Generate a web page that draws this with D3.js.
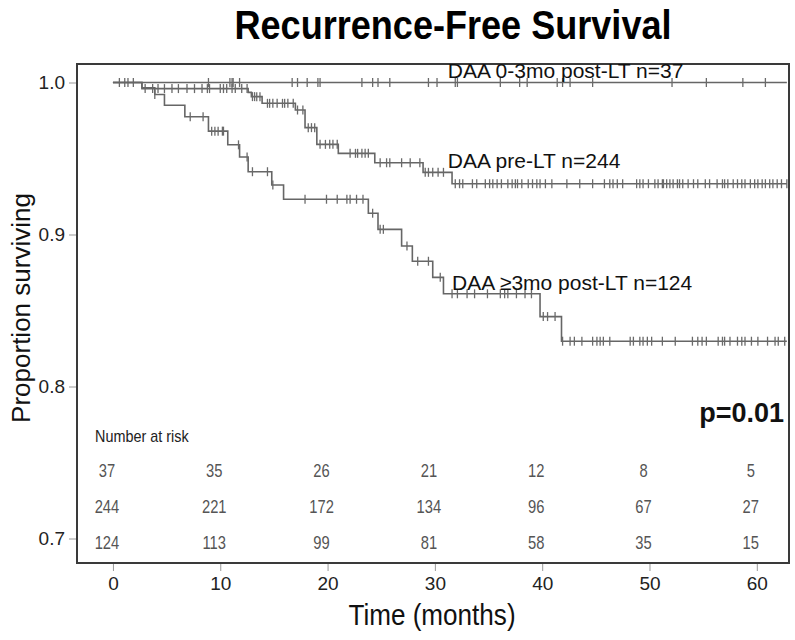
<!DOCTYPE html>
<html>
<head>
<meta charset="utf-8">
<script src="https://cdn.jsdelivr.net/npm/d3@7"></script>
<style>
  html, body { margin: 0; padding: 0; background: #fff; }
  svg { display: block; font-family: "Liberation Sans", Arial, Helvetica, sans-serif; }
</style>
</head>
<body>
<svg id="chart" width="795" height="640"></svg>
<script>
// ---------------- data ----------------
const titleText = "Recurrence-Free Survival";
const xTitle = "Time (months)";
const yTitle = "Proportion surviving";
const timeTicks = [0, 10, 20, 30, 40, 50, 60];
const survTicks = [0.7, 0.8, 0.9, 1.0];
const groupNames = ["DAA 0-3mo post-LT n=37", "DAA pre-LT n=244", "DAA \u22653mo post-LT n=124"];
const labelT = [31.2, 31.2, 31.6];
const labelV = [1.003, 0.9438, 0.8635];
const pText = "p=0.01";

const riskTimes = [0, 10, 20, 30, 40, 50, 60];
const riskG1 = [37, 35, 26, 21, 12, 8, 5];
const riskG2 = [244, 221, 172, 134, 96, 67, 27];
const riskG3 = [124, 113, 99, 81, 58, 35, 15];

const endTime = 62.8;

// step functions (time in months, survival after the step)
const g1StepT = [0];
const g1StepV = [1.0];
const g2StepT = [0, 2.7, 12.6, 12.9, 13.9, 17.0, 17.9, 19.0, 21.0, 24.4, 28.9, 31.6];
const g2StepV = [1.0, 0.9960, 0.9935, 0.9907, 0.9863, 0.9819, 0.9703, 0.9593, 0.9534, 0.9472, 0.9409, 0.9334];
const g3StepT = [0, 2.7, 3.9, 4.8, 6.7, 8.9, 10.7, 11.8, 12.6, 14.8, 15.9, 23.8, 24.7, 26.9, 27.9, 29.8, 30.8, 39.8, 41.8];
const g3StepV = [1.0, 0.9965, 0.9921, 0.985, 0.9775, 0.968, 0.959, 0.951, 0.9413, 0.9326, 0.9232, 0.914, 0.9034, 0.8924, 0.8824, 0.8718, 0.861, 0.846, 0.8298];

// censoring times
const g1Cens = [0.6,1.1,1.4,1.9,8.9,10.9,11.1,11.2,11.8,16.7,17.2,18.1,19.1,19.3,23.2,24.2,24.7,25.8,29.4,30.2,31.9,32.1,36.1,37.9,38.6,41.4,41.9,42.6,44.7,52.1,55.3,58.7,60.8];
const g2Cens = [3.0,3.7,4.2,4.8,5.5,6.1,6.9,7.6,8.3,8.8,9.0,10.0,10.3,10.6,11.1,11.4,12.0,12.5,13.0,13.2,13.4,13.7,14.4,14.6,14.9,15.3,15.8,16.0,16.3,16.8,17.2,17.7,18.2,18.5,18.8,19.3,19.8,20.2,20.5,20.9,22.1,22.6,22.8,23.2,23.5,23.8,24.9,25.5,25.8,26.9,27.7,28.6,29.1,29.4,29.8,30.3,30.8,31.9,32.3,32.6,33.5,33.9,34.7,35.1,35.4,35.8,36.2,36.8,37.2,37.5,37.7,38.1,38.7,39.1,39.5,39.8,40.3,40.9,42.3,43.5,44.7,45.8,46.3,46.6,47.0,47.5,48.8,49.1,49.4,49.9,50.5,50.8,51.2,51.3,51.6,51.9,52.2,52.6,52.8,53.1,53.6,54.1,54.5,55.2,55.6,56.3,56.8,57.0,57.3,57.8,58.2,58.6,58.9,59.4,59.8,60.1,60.5,60.8,61.2,61.5,61.9,62.3,62.8];
const g3Cens = [3.9,7.2,8.4,9.2,9.5,9.8,10.2,10.3,11.7,12.5,13.0,14.4,14.9,17.9,19.9,20.9,21.8,22.1,22.7,23.3,24.2,24.9,25.2,27.4,28.4,29.4,30.5,31.6,32.1,33.0,33.7,34.9,36.1,36.5,36.8,37.6,38.4,39.0,40.1,40.5,41.2,41.9,42.6,43.0,43.7,44.7,45.1,45.4,45.7,46.3,48.2,48.5,49.1,49.4,49.8,50.2,51.2,52.4,54.0,54.5,54.9,55.3,56.4,56.8,57.0,57.5,58.2,58.6,58.9,59.5,60.1,61.0,61.7,62.0,62.6];

// ---------------- layout ----------------
const svg = d3.select("#chart");
const frame = { left: 77, right: 789, top: 64, bottom: 563 };

const x = d3.scaleLinear().domain([-3.35, 63.0]).range([frame.left, frame.right]);
const y = d3.scaleLinear().domain([0.7, 1.0]).range([538.5, 82.5]);

svg.append("rect").attr("width", 795).attr("height", 640).attr("fill", "#fff");

// condensed text helper
function ctext(parent, px, py, str, opts) {
  const g = parent.append("g").attr("transform", `translate(${px},${py}) scale(${opts.sx || 1},1)`);
  return g.append("text")
    .attr("x", 0).attr("y", 0)
    .attr("text-anchor", opts.anchor || "start")
    .attr("font-size", opts.size)
    .attr("font-weight", opts.weight || "normal")
    .attr("fill", opts.fill || "#111")
    .text(str);
}

// title
ctext(svg, 453, 39, titleText, { size: 41, weight: "bold", anchor: "middle", sx: 0.88, fill: "#000" });

// clip
svg.append("defs").append("clipPath").attr("id", "clip")
  .append("rect").attr("x", frame.left).attr("y", frame.top)
  .attr("width", frame.right - frame.left).attr("height", frame.bottom - frame.top);

// axes
const yAxis = svg.append("g").attr("transform", `translate(${frame.left},0)`)
  .call(d3.axisLeft(y).tickValues(survTicks).tickFormat(d3.format(".1f")).tickSize(8).tickPadding(4));
const xAxis = svg.append("g").attr("transform", `translate(0,${frame.bottom})`)
  .call(d3.axisBottom(x).tickValues(timeTicks).tickSize(8).tickPadding(6));
[yAxis, xAxis].forEach(a => {
  a.select(".domain").remove();
  a.selectAll(".tick line").attr("stroke", "#999").attr("stroke-width", 1);
  a.selectAll(".tick text").attr("fill", "#222")
    .attr("font-family", "'Liberation Sans', Arial, sans-serif");
});
yAxis.selectAll(".tick text").attr("font-size", 19);
xAxis.selectAll(".tick text").attr("font-size", 19);

// frame
svg.append("rect")
  .attr("x", frame.left).attr("y", frame.top)
  .attr("width", frame.right - frame.left).attr("height", frame.bottom - frame.top)
  .attr("fill", "none").attr("stroke", "#3a3a3a").attr("stroke-width", 2);

// axis titles
ctext(svg, 432, 625, xTitle, { size: 29, anchor: "middle", sx: 0.9, fill: "#111" });
svg.append("text")
  .attr("transform", `translate(30,308) rotate(-90)`)
  .attr("text-anchor", "middle").attr("font-size", 26).attr("fill", "#111")
  .text(yTitle);

// curves
const groups = [
  { T: g1StepT, V: g1StepV, C: g1Cens },
  { T: g2StepT, V: g2StepV, C: g2Cens },
  { T: g3StepT, V: g3StepV, C: g3Cens }
];
const plot = svg.append("g").attr("clip-path", "url(#clip)");
const line = d3.line().x(d => x(d[0])).y(d => y(d[1])).curve(d3.curveStepAfter);

groups.forEach((gr, i) => {
  const pts = gr.T.map((t, k) => [t, gr.V[k]]);
  pts.push([endTime, gr.V[gr.V.length - 1]]);
  plot.append("path").datum(pts)
    .attr("d", line).attr("fill", "none")
    .attr("stroke", "#666").attr("stroke-width", 1.6);
  const sAt = t => gr.V[d3.bisectRight(gr.T, t) - 1];
  plot.selectAll(null).data(gr.C).enter().append("line")
    .attr("x1", d => x(d)).attr("x2", d => x(d))
    .attr("y1", d => y(sAt(d)) - 4.5).attr("y2", d => y(sAt(d)) + 4.5)
    .attr("stroke", "#6a6a6a").attr("stroke-width", 1.3);
});

// curve labels
groupNames.forEach((nm, i) => {
  svg.append("text")
    .attr("x", x(labelT[i])).attr("y", y(labelV[i]))
    .attr("font-size", 21).attr("fill", "#111")
    .text(nm);
});

// p value
svg.append("text").attr("x", 784).attr("y", 422)
  .attr("text-anchor", "end").attr("font-size", 27).attr("font-weight", "bold")
  .attr("fill", "#111").text(pText);

// number at risk
ctext(svg, 95, 442, "Number at risk", { size: 16, sx: 0.9, fill: "#222" });
const riskRows = [riskG1, riskG2, riskG3];
const riskY = [477, 513, 549];
riskRows.forEach((row, r) => {
  row.forEach((n, k) => {
    ctext(svg, x(riskTimes[k]) - 6, riskY[r], String(n), { size: 18, sx: 0.82, anchor: "middle", fill: "#555" });
  });
});
</script>
</body>
</html>
